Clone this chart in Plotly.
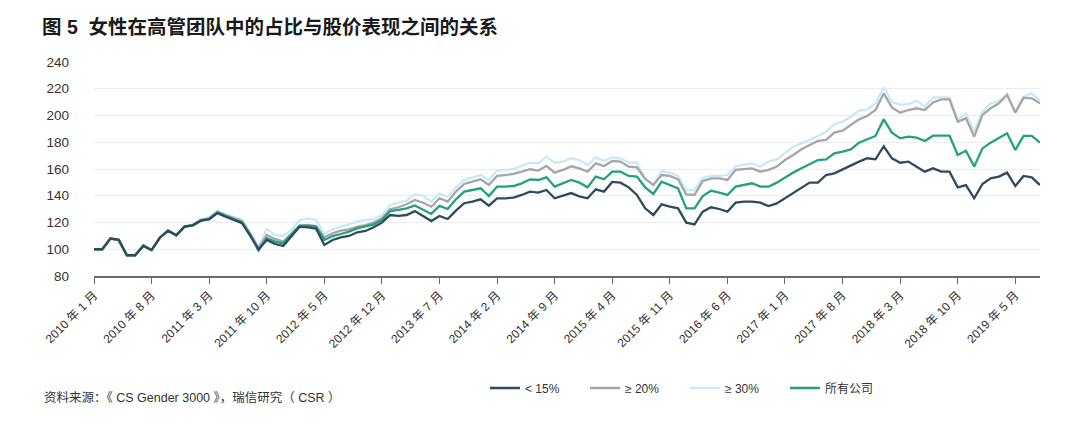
import plotly.graph_objects as go

# ---- data ----
start_year, start_month, n_months = 2010, 1, 116
months = []
for k in range(n_months):
    y = start_year + (start_month - 1 + k) // 12
    m = (start_month - 1 + k) % 12 + 1
    months.append(f"{y} 年 {m} 月")

lt15 = [100, 100, 108, 107, 95.5, 95.5, 102.4, 99.4, 108.6, 113.9,
        110.4, 116.9, 117.9, 121.4, 122.4, 127, 124.3, 121.9, 119.5, 110,
        100, 106.9, 103.9, 102.4, 110, 116.9, 116.4, 115.4, 103.2, 106.9,
        108.9, 109.9, 112.7, 113.7, 116.4, 119.9, 125.6, 124.9, 125.6, 128.5,
        124.9, 121.1, 124.9, 122.6, 128.9, 134.4, 135.6, 137.3, 132.6, 138.1,
        138.1, 138.6, 140.6, 143.1, 142.3, 144.3, 138.1, 140.1, 142, 139.5,
        138.1, 144.8, 143.1, 150.3, 149.8, 146.3, 140.6, 130.6, 125.6, 133.6,
        131.8, 130.6, 119.9, 118.6, 128.1, 131.4, 130.1, 128.1, 134.8, 135.6,
        135.6, 134.8, 132.3, 134.3, 138.1, 142.3, 146.3, 149.8, 149.8, 155.5,
        156.8, 159.8, 163.0, 165.5, 168.0, 167.2, 177.0, 168.0, 164.7, 165.5,
        161.7, 158.0, 160.5, 158.0, 158.0, 146.3, 148.0, 138.1, 148.8, 153.0,
        154.3, 157.3, 147.3, 154.8, 153.8, 148.0]

ge20 = [100, 100, 108, 107, 95.5, 95.5, 102.4, 99.4, 108.6, 113.9,
        110.4, 116.9, 118.2, 122.0, 123.0, 128.0, 125.5, 123.0, 121.0, 111.5,
        101, 110.7, 107.7, 105.7, 112, 117.6, 118.2, 117.4, 108.9, 111.9,
        113.9, 114.9, 116.9, 118.1, 119.9, 123.1, 129.9, 131.4, 133.6, 136.8,
        134.8, 131.8, 138.1, 135.6, 143.1, 148.8, 150.6, 152.3, 148.1, 154.8,
        155.5, 156.3, 158.0, 159.8, 158.8, 162.3, 157.3, 159.3, 162, 160.5,
        158.0, 164.2, 162.2, 166.0, 165.5, 161.7, 161.2, 152.5, 148.0, 155.5,
        154.8, 152.3, 141.1, 140.6, 151.0, 153.0, 153.0, 151.8, 159.3, 160.0,
        160.5, 158.0, 159.3, 161.8, 166.7, 170.5, 174.7, 178.0, 181.0, 181.7,
        187.2, 188.7, 192.9, 197.1, 199.6, 204.1, 216.5, 206.1, 202.1, 204.1,
        205.4, 204.1, 209.8, 212.1, 212.1, 195.4, 197.9, 184.2, 200.4, 205.4,
        209.1, 215.3, 202.1, 213.3, 212.8, 209.1]

ge30 = [100, 100, 108, 107, 95.5, 95.5, 102.4, 99.4, 108.6, 113.9,
        110.4, 116.9, 118.5, 122.5, 124.0, 129.0, 126.0, 124.0, 122.0, 112.5,
        102, 115.2, 110.7, 109.9, 114.4, 121.9, 122.9, 121.9, 111.4, 114.9,
        116.9, 118.6, 120.6, 121.9, 122.4, 125.6, 133.1, 134.8, 136.3, 141.0,
        140.1, 135.6, 141.8, 139.3, 146.3, 151.8, 153.8, 155.5, 151.8, 158.8,
        159.3, 160.0, 162.3, 164.7, 164.2, 169.2, 164.7, 165.5, 168, 166.7,
        163.0, 168.7, 166.2, 168.7, 168.0, 164.7, 164.7, 153.0, 148.0, 158.5,
        157.3, 154.8, 144.3, 144.3, 153.5, 154.8, 154.8, 155.5, 162.0, 163.0,
        164.2, 161.8, 165.5, 167.2, 172.2, 176.7, 179.2, 181.7, 184.7, 187.9,
        193.6, 195.4, 199.1, 203.6, 204.6, 209.0, 221.1, 210.3, 207.9, 208.4,
        211.1, 206.6, 213.6, 213.6, 213.6, 197.1, 201.6, 187.9, 202.9, 209.1,
        210.8, 216.1, 202.9, 214.1, 216.6, 211.1]

all_cos = [100, 100, 108, 107, 95.5, 95.5, 103, 99.4, 108.6, 113.9,
           110.4, 116.9, 117.9, 121.4, 122.6, 127.5, 125.0, 122.5, 120.0, 110.5,
           99, 108.2, 105.7, 104.4, 111.2, 117.6, 117.4, 116.9, 106.9, 109.9,
           111.4, 113.2, 115.6, 116.9, 118.6, 121.9, 128.6, 129.4, 130.6, 132.8,
           129.9, 126.4, 132.4, 130.1, 137.3, 143.1, 144.3, 145.6, 139.8, 146.8,
           146.8, 147.3, 149.3, 152.3, 151.8, 153.8, 146.8, 149.3, 151.8, 149.8,
           146.3, 154.3, 152.3, 158.0, 158.0, 154.8, 154.3, 146.3, 141.3, 150.5,
           148.0, 145.5, 130.6, 130.6, 139.8, 143.8, 142.3, 140.6, 146.8, 148.0,
           149.3, 146.8, 146.8, 149.8, 153.8, 157.3, 160.5, 163.5, 166.7, 167.2,
           171.7, 173.0, 174.7, 179.7, 182.2, 184.7, 197.1, 187.2, 182.9, 184.2,
           183.4, 180.9, 184.9, 184.9, 184.9, 170.5, 173.7, 161.8, 175.4, 179.7,
           182.9, 186.7, 174.2, 184.7, 184.7, 179.7]

series_names = ["< 15%", "≥ 20%", "≥ 30%", "所有公司"]
series_values = [lt15, ge20, ge30, all_cos]
series_colors = ["#2f4a5f", "#a6a6a6", "#c8eaf8", "#23a07c"]
legend_ranks = [1, 2, 3, 4]
draw_order = [2, 1, 3, 0]  # light blue, grey, green, dark on top

y_ticks = [80, 100, 120, 140, 160, 180, 200, 220, 240]
x_tick_step = 7

FONT = "Liberation Sans, Arial, Noto Sans CJK SC, sans-serif"

# page has an 8px body margin; positions below are figure coordinates
L, R, T, B = 86, 1032, 54, 268  # plot area edges inside the figure
W, H = 1080, 432
PW, PH = R - L, B - T

fig = go.Figure()
for idx in draw_order:
    fig.add_trace(go.Scatter(
        x=months, y=series_values[idx], name=series_names[idx], mode="lines",
        line=dict(color=series_colors[idx], width=2.3),
        legendrank=legend_ranks[idx],
    ))

fig.update_layout(
    width=W, height=H,
    margin=dict(l=L, r=W - R, t=T, b=H - B),
    paper_bgcolor="white", plot_bgcolor="white",
    font=dict(family=FONT, color="#333333", size=12),
    title=dict(
        text="<b>图 5  女性在高管团队中的占比与股价表现之间的关系</b>",
        x=34 / W, xanchor="left", xref="container",
        y=1 - 19 / H, yanchor="middle", yref="container",
        font=dict(size=19.5, color="#1a1a1a", family=FONT),
    ),
    showlegend=True,
    legend=dict(
        orientation="h", x=(477 - L) / PW, xanchor="left",
        y=(B - 380) / PH, yanchor="middle",
        font=dict(size=12, color="#333333"),
        entrywidth=55, entrywidthmode="pixels",
        bgcolor="rgba(0,0,0,0)", traceorder="normal",
    ),
    annotations=[dict(
        text="资料来源：《 CS Gender 3000 》，瑞信研究（ CSR ）",
        xref="paper", yref="paper", x=(34 - L) / PW, y=(B - 389) / PH,
        xanchor="left", yanchor="middle", showarrow=False,
        font=dict(size=12.5, color="#333333"),
    )],
)

fig.update_xaxes(
    type="category", range=[0, n_months - 1],
    tickmode="array", tickvals=months[::x_tick_step], ticktext=months[::x_tick_step],
    tickangle=-45, tickfont=dict(size=12, color="#333333"),
    showgrid=False, showline=True, linecolor="#6b6b6b", linewidth=1.5,
    ticks="outside", ticklen=6, tickcolor="#6b6b6b", tickwidth=1,
    zeroline=False,
)
fig.update_yaxes(
    range=[80, 240], tickmode="array", tickvals=y_ticks,
    tickfont=dict(size=13.5, color="#333333"),
    showgrid=True, gridcolor="#ececec", gridwidth=1,
    showline=False, zeroline=False, ticks="", ticklabelstandoff=24,
)

fig.write_html("out.html")
